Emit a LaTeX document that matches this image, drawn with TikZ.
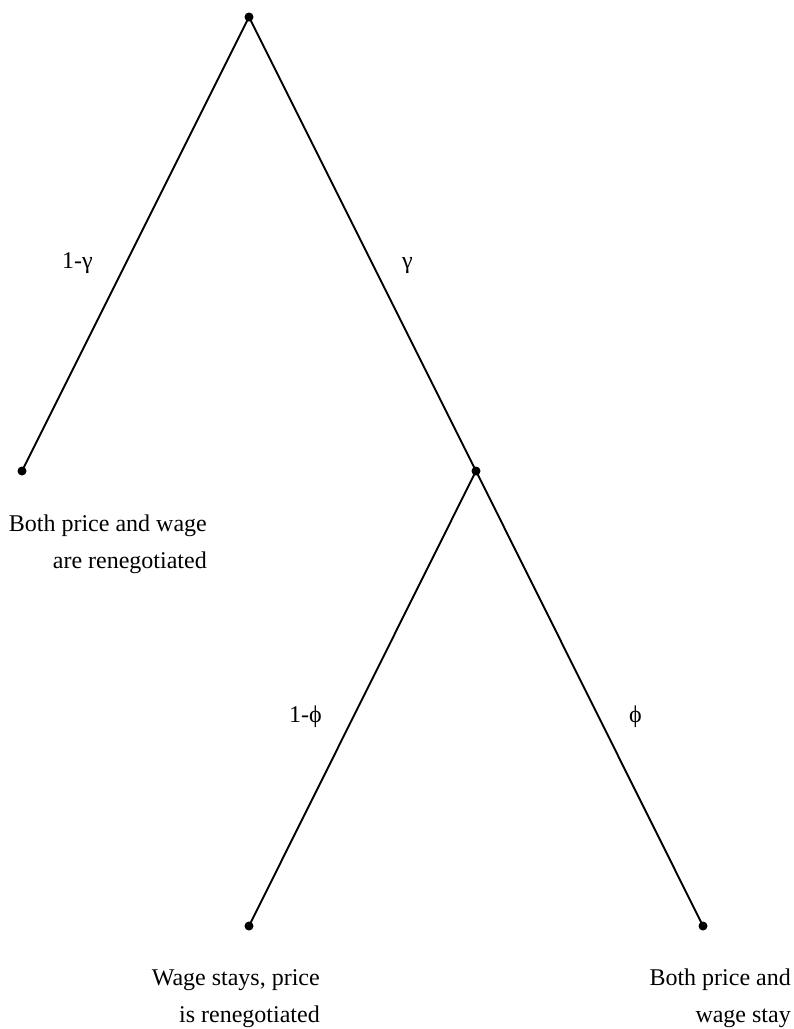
\documentclass[tikz,border=0pt]{standalone}
\usepackage{fontspec}
\setmainfont{Liberation Serif}
\begin{document}
\begin{tikzpicture}[x=1pt,y=-1pt,
  dotnode/.style={circle,fill=black,inner sep=0pt,minimum size=9pt},
  branch/.style={line width=1.9pt},
  leaftext/.style={inner sep=0pt,anchor=base east,align=right,font=\fontsize{24}{37}\selectfont},
  problabel/.style={inner sep=0pt,anchor=base west,font=\fontsize{24}{28}\selectfont}]
\useasboundingbox (0,0) rectangle (794,1029);
\node[dotnode] (n0) at (249,17) {};
\node[dotnode] (n1) at (22,471) {};
\node[dotnode] (n2) at (476,471) {};
\node[dotnode] (n3) at (249,926) {};
\node[dotnode] (n4) at (703,926) {};
\draw[branch] (n0.center) -- (n1.center);
\draw[branch] (n0.center) -- (n2.center);
\draw[branch] (n2.center) -- (n3.center);
\draw[branch] (n2.center) -- (n4.center);
\node[problabel] (lg1) at (62,268) {1-γ};
\node[problabel] (lg2) at (402,268) {γ};
\node[problabel] (lp1) at (289,722) {1-ϕ};
\node[problabel] (lp2) at (629,722) {ϕ};
\node[leaftext] (t1) at (207,568) {Both price and wage\\are renegotiated};
\node[leaftext] (t3) at (320,1022) {Wage stays, price\\is renegotiated};
\node[leaftext] (t4) at (791,1022) {Both price and\\wage stay};
\end{tikzpicture}
\end{document}
